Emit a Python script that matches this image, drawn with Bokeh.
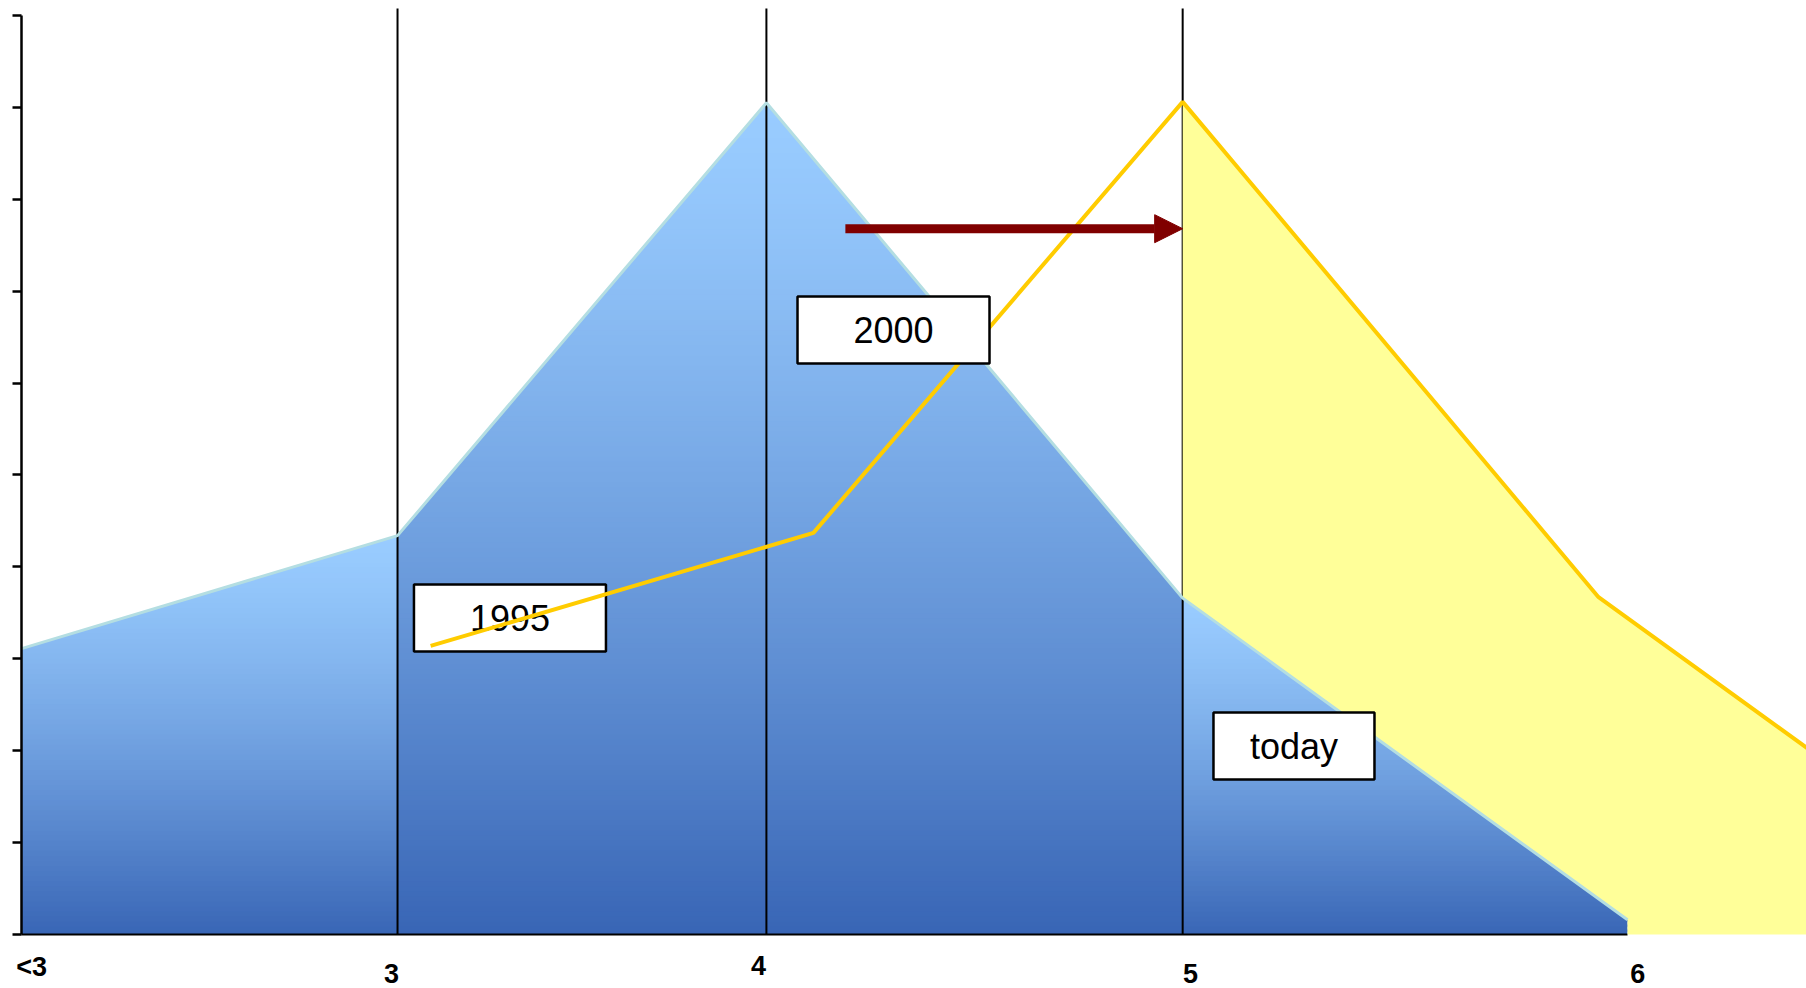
from bokeh.plotting import figure
from bokeh.models import Range1d, FixedTicker, Arrow, NormalHead
from bokeh.embed import file_html
from bokeh.resources import INLINE
from bokeh.core.properties import value

# ---------------- data ----------------
categories = ["<3", "3", "4", "5", "6"]
cat_x = [0.0, 1.0, 1.981, 3.088, 4.271]          # category positions on x
blue_y = [3.11, 4.34, 9.05, 3.66, 0.16]           # blue (earlier) distribution

yellow_x = [1.088, 2.106, 3.088, 4.194, 5.38]     # shifted distribution
yellow_y = [3.14, 4.37, 9.06, 3.67, 0.16]

y_ticks = [0, 1, 2, 3, 4, 5, 6, 7, 8, 9, 10]

label_x = [0.027, 0.984, 1.960, 3.109, 4.298]     # x tick label positions
label_y = [-0.359, -0.419, -0.337, -0.424, -0.424]

box_text = ["1995", "2000", "today"]
box_x = [1.299, 2.319, 3.384]
box_y = [3.444, 6.578, 2.051]

arrow_from = 2.191
arrow_to = 3.088
arrow_y = 7.68

divider_top = 10.076
gradient_groups = [(0, 1), (1, 3), (3, 4)]       # index ranges of shaded blocks

# ---------------- figure ----------------
X_START, X_END = -0.05585, 4.747
Y_START, Y_END = -0.5876, 10.163

p = figure(width=1806, height=988, output_backend="svg", toolbar_location=None,
           x_range=Range1d(X_START, X_END), y_range=Range1d(Y_START, Y_END),
           x_axis_location=None, y_axis_location="left",
           min_border=0, min_border_left=0, min_border_right=0,
           min_border_top=0, min_border_bottom=0)
p.outline_line_color = None
p.xgrid.visible = False
p.ygrid.visible = False
p.background_fill_color = "white"
p.border_fill_color = "white"

ax = p.yaxis[0]
ax.fixed_location = 0
ax.ticker = FixedTicker(ticks=y_ticks)
ax.bounds = (0, 10)
ax.axis_line_width = 2.5
ax.axis_line_color = "black"
ax.major_tick_line_width = 2.5
ax.major_tick_line_color = "black"
ax.major_tick_out = 9
ax.major_tick_in = 0
ax.minor_tick_out = 0
ax.minor_tick_in = 0
ax.major_label_text_font_size = "0px"
ax.major_label_standoff = 0
ax.major_label_overrides = {t: "" for t in y_ticks}

# ---------------- gradient blue area ----------------
LIGHT = (153, 204, 255)
DARK = (56, 101, 181)


def clip_half(pts, keep, yc):
    out = []
    n = len(pts)
    for i in range(n):
        cx, cy = pts[i]
        px, py = pts[i - 1]
        cin, pin = keep(cy), keep(py)
        if cin:
            if not pin:
                t = (yc - py) / (cy - py)
                out.append((px + t * (cx - px), yc))
            out.append((cx, cy))
        elif pin:
            t = (yc - py) / (cy - py)
            out.append((px + t * (cx - px), yc))
    return out


strip_xs, strip_ys, strip_cols = [], [], []
DY = 0.055
OVER = 0.025
for a, b in gradient_groups:
    xs = cat_x[a:b + 1]
    ys = blue_y[a:b + 1]
    poly = [(xs[0], 0.0)] + list(zip(xs, ys)) + [(xs[-1], 0.0)]
    top = max(ys)
    n = int(top / DY) + 1
    for k in range(n):
        lo = max(0.0, k * DY - OVER)
        hi = (k + 1) * DY
        pts = clip_half(poly, lambda y, lo=lo: y >= lo, lo)
        pts = clip_half(pts, lambda y, hi=hi: y <= hi, hi)
        if len(pts) < 3:
            continue
        mid = min((k + 0.5) * DY, top)
        f = (1 - mid / top) ** 1.3
        col = tuple(int(round(LIGHT[j] + (DARK[j] - LIGHT[j]) * f)) for j in range(3))
        strip_xs.append([q[0] for q in pts])
        strip_ys.append([q[1] for q in pts])
        strip_cols.append("#%02x%02x%02x" % col)

p.patches(strip_xs, strip_ys, fill_color=strip_cols, line_color=None)

# baseline and vertical dividers
p.line([cat_x[0], cat_x[-1]], [0, 0], line_color="black", line_width=2.2)
p.segment(x0=cat_x[1:4], y0=[0] * 3, x1=cat_x[1:4], y1=[divider_top] * 3,
          line_color="black", line_width=2)

# ---------------- yellow area ----------------
poly_x = yellow_x[2:] + [yellow_x[-1], cat_x[-1]] + [cat_x[4], cat_x[3]]
poly_y = yellow_y[2:] + [0, 0] + [blue_y[4], blue_y[3]]
p.patch(poly_x, poly_y, fill_color="#FFFF99", line_color=None)

# blue top edge
p.line(cat_x, blue_y, line_color="#B4DEE2", line_width=3)

# 1995 box (below yellow line)
p.rect(x=box_x[:1], y=box_y[:1], width=192, height=67, width_units="screen",
       height_units="screen", fill_color="white", line_color="black", line_width=2.5)
p.text(x=box_x[:1], y=box_y[:1], text=box_text[:1], text_font=value("Liberation Sans"),
       text_font_size="36px", text_align="center", text_baseline="middle", text_color="black")

# yellow line
p.line(yellow_x, yellow_y, line_color="#FFCC00", line_width=4)

# other boxes
p.rect(x=box_x[1:], y=box_y[1:], width=[192, 161], height=67, width_units="screen",
       height_units="screen", fill_color="white", line_color="black", line_width=2.5)
p.text(x=box_x[1:], y=box_y[1:], text=box_text[1:], text_font=value("Liberation Sans"),
       text_font_size="36px", text_align="center", text_baseline="middle", text_color="black")

# arrow
p.add_layout(Arrow(end=NormalHead(size=28, fill_color="#800000", line_color="#800000", line_width=1),
                   x_start=arrow_from, y_start=arrow_y, x_end=arrow_to, y_end=arrow_y,
                   line_width=9, line_color="#800000"))

# x category labels
p.text(x=label_x, y=label_y, text=categories, text_font=value("Liberation Sans"),
       text_font_style="bold", text_font_size="27px", text_align="center",
       text_baseline="middle", text_color="black")

open("out.html", "w").write(file_html(p, INLINE))
